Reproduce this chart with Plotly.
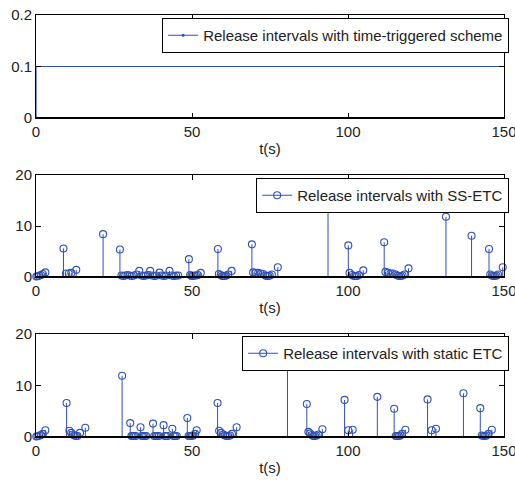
import plotly.graph_objects as go

# ---------------- data ----------------
# time-triggered scheme: constant release interval of 0.1 s
tt_t = [0, 0, 150]
tt_y = [0, 0.1, 0.1]

# SS-ETC release instants (s) and intervals (s)
ss_t = [0.1, 0.5, 1.0, 1.6, 2.2, 3.0,
        8.8, 9.6, 10.5, 11.3, 12.9,
        21.5, 26.9,
        27.4, 28.0, 28.6, 29.3, 30.0, 30.7, 31.4, 32.2, 33.1, 33.8, 34.5, 35.2, 35.9,
        36.6, 37.3, 38.0, 38.7, 39.6, 40.3, 41.0, 41.7, 42.8, 43.5, 44.2, 44.9, 45.6,
        49.0, 49.4, 49.8, 50.3, 50.8, 51.3, 51.9, 52.8,
        58.3, 58.6, 59.2, 59.7, 60.1, 60.5, 61.0, 61.6, 62.7,
        69.2, 69.6, 70.4, 71.2, 72.0, 72.8, 73.5, 74.0, 74.4, 74.9, 75.6, 77.5,
        93.6,
        100.1, 100.5, 101.3, 101.9, 102.4, 102.9, 103.5, 104.9,
        111.6, 112.0, 112.8, 113.6, 114.4, 115.2, 115.9, 116.4, 116.9, 117.5, 118.1, 119.4,
        131.4, 139.6,
        145.2, 145.6, 146.1, 146.6, 147.1, 147.6, 148.1, 149.6]
ss_v = [0.1, 0.15, 0.25, 0.4, 0.6, 0.9,
        5.6, 0.7, 0.7, 0.8, 1.4,
        8.4, 5.4,
        0.3, 0.2, 0.3, 0.4, 0.3, 0.2, 0.3, 0.5, 1.2, 0.3, 0.2, 0.3, 0.4,
        1.2, 0.3, 0.2, 0.3, 0.85, 0.3, 0.2, 0.3, 1.2, 0.3, 0.2, 0.3, 0.3,
        3.5, 0.4, 0.2, 0.2, 0.3, 0.3, 0.4, 0.8,
        5.5, 0.6, 0.4, 0.2, 0.2, 0.2, 0.3, 0.5, 1.2,
        6.4, 0.9, 0.8, 0.8, 0.7, 0.6, 0.3, 0.2, 0.2, 0.3, 0.5, 1.9,
        16.5,
        6.2, 0.8, 0.4, 0.2, 0.2, 0.2, 0.4, 1.3,
        6.8, 1.0, 0.8, 0.7, 0.7, 0.5, 0.3, 0.2, 0.2, 0.3, 0.5, 1.7,
        11.8, 8.1,
        5.5, 0.5, 0.3, 0.2, 0.2, 0.3, 0.5, 1.9]

# static ETC release instants (s) and intervals (s)
st_t = [0.1, 0.5, 1.0, 1.6, 2.2, 3.0,
        9.8, 10.7, 11.3, 11.8, 12.3, 12.8, 13.3, 14.1, 15.8,
        27.6,
        30.2, 30.6, 31.0, 31.5, 32.0,
        33.5, 33.9, 34.3, 34.8, 35.3,
        37.5, 37.9, 38.4, 38.9, 39.4,
        40.9, 41.3, 41.7, 42.2,
        43.7, 44.1, 44.6, 45.1,
        48.5, 48.9, 49.4, 49.9, 50.4, 51.0, 51.5,
        58.2, 58.7, 59.3, 60.0, 60.6, 61.1, 61.6, 62.2, 62.8, 64.3,
        80.6,
        86.8, 87.3, 87.8, 88.4, 88.9, 89.4, 89.9, 90.5, 91.8,
        98.9, 100.1, 101.5,
        109.4,
        114.8, 115.3, 115.8, 116.3, 116.8, 117.3, 118.4,
        125.5, 126.8, 128.2,
        137.0,
        142.4, 142.9, 143.4, 143.9, 144.4, 145.0, 146.1]
st_v = [0.1, 0.15, 0.25, 0.4, 0.6, 1.3,
        6.6, 1.2, 0.8, 0.5, 0.3, 0.2, 0.2, 0.8, 1.8,
        11.9,
        2.7, 0.2, 0.2, 0.2, 0.2,
        1.9, 0.2, 0.2, 0.2, 0.2,
        2.6, 0.2, 0.2, 0.2, 0.2,
        2.3, 0.2, 0.2, 0.2,
        1.6, 0.2, 0.2, 0.2,
        3.7, 0.2, 0.2, 0.2, 0.3, 0.6, 1.3,
        6.6, 1.2, 0.8, 0.5, 0.3, 0.2, 0.2, 0.3, 0.6, 1.9,
        16.5,
        6.4, 1.0, 0.7, 0.4, 0.2, 0.2, 0.3, 0.5, 1.5,
        7.2, 1.3, 1.4,
        7.8,
        5.5, 0.2, 0.2, 0.2, 0.3, 0.6, 1.4,
        7.3, 1.3, 1.6,
        8.5,
        5.6, 0.3, 0.2, 0.2, 0.3, 0.6, 1.4]

x_ticks = [0, 50, 100, 150]
labels = ["Release intervals with time-triggered scheme",
          "Release intervals with SS-ETC",
          "Release intervals with static ETC"]

# ---------------- figure ----------------
BLUE = "#2f52b5"
FONT = "Liberation Sans, Arial, sans-serif"

def stem_xy(ts, vs):
    xs, ys = [], []
    for t, v in zip(ts, vs):
        xs += [t, t, None]
        ys += [0, v, None]
    return xs, ys

fig = go.Figure()

# top subplot
fig.add_trace(go.Scatter(x=tt_t, y=tt_y, mode="lines", line=dict(color=BLUE, width=1.2),
                         xaxis="x", yaxis="y", showlegend=False, hoverinfo="skip"))
fig.add_trace(go.Scatter(x=[None], y=[None], mode="lines+markers", name=labels[0],
                         line=dict(color=BLUE, width=1.2), marker=dict(size=3, color=BLUE),
                         xaxis="x", yaxis="y", legend="legend"))

for (ts, vs, xa, ya, lg, name) in [(ss_t, ss_v, "x2", "y2", "legend2", labels[1]),
                                   (st_t, st_v, "x3", "y3", "legend3", labels[2])]:
    sx, sy = stem_xy(ts, vs)
    fig.add_trace(go.Scatter(x=sx, y=sy, mode="lines", line=dict(color=BLUE, width=1),
                             xaxis=xa, yaxis=ya, showlegend=False, hoverinfo="skip"))
    fig.add_trace(go.Scatter(x=ts, y=vs, mode="markers", cliponaxis=False,
                             marker=dict(symbol="circle-open", size=7, color=BLUE,
                                         line=dict(width=1.1, color=BLUE)),
                             xaxis=xa, yaxis=ya, showlegend=False))
    fig.add_trace(go.Scatter(x=[None], y=[None], mode="lines+markers", name=name,
                             line=dict(color=BLUE, width=1),
                             marker=dict(symbol="circle-open", size=7, color=BLUE,
                                         line=dict(width=1.1, color=BLUE)),
                             xaxis=xa, yaxis=ya, legend=lg))

H = 480.0
doms = [(1 - 118 / H, 1 - 15 / H), (1 - 277 / H, 1 - 175 / H), (1 - 437 / H, 1 - 334 / H)]

axis_common = dict(showline=True, linecolor="black", linewidth=1, mirror="ticks",
                   ticks="inside", ticklen=5, tickcolor="black", showgrid=False,
                   zeroline=False, automargin=False, ticklabeloverflow="allow",
                   tickfont=dict(size=15, color="#222", family=FONT))

layout = dict(width=515, height=480, paper_bgcolor="white", plot_bgcolor="white",
              margin=dict(l=36, r=11, t=0, b=0, autoexpand=False),
              font=dict(family=FONT, color="#222"))

yranges = [[0, 0.2], [0, 20], [0, 20]]
ydticks = [0.1, 10, 10]
for i in range(3):
    sfx = "" if i == 0 else str(i + 1)
    layout["xaxis" + sfx] = dict(axis_common, domain=[0, 1], anchor="y" + sfx,
                                 range=[0, 150], tickvals=x_ticks,
                                 title=dict(text="t(s)", font=dict(size=15, family=FONT, color="#222"),
                                            standoff=4))
    layout["yaxis" + sfx] = dict(axis_common, domain=list(doms[i]), anchor="x" + sfx,
                                 range=yranges[i], dtick=ydticks[i], tick0=0)

leg_tops = [1 - 18 / H, 1 - 178 / H, 1 - 336 / H]
for i, lg in enumerate(["legend", "legend2", "legend3"]):
    layout[lg] = dict(x=1.011, xanchor="right", y=leg_tops[i], yanchor="top",
                      bgcolor="white", bordercolor="black", borderwidth=1,
                      font=dict(size=15, family=FONT, color="#222"),
                      tracegroupgap=0)

fig.update_layout(**layout)

# stem baselines (thicker line at zero)
for i in range(3):
    sfx = "" if i == 0 else str(i + 1)
    fig.add_shape(type="line", xref=("x" + sfx) + " domain", yref="y" + sfx,
                  x0=0, x1=1, y0=0, y1=0, line=dict(color="black", width=2), layer="above")

fig.write_html("out.html", config={"displayModeBar": False},
               post_script="document.body.style.margin='0';")
